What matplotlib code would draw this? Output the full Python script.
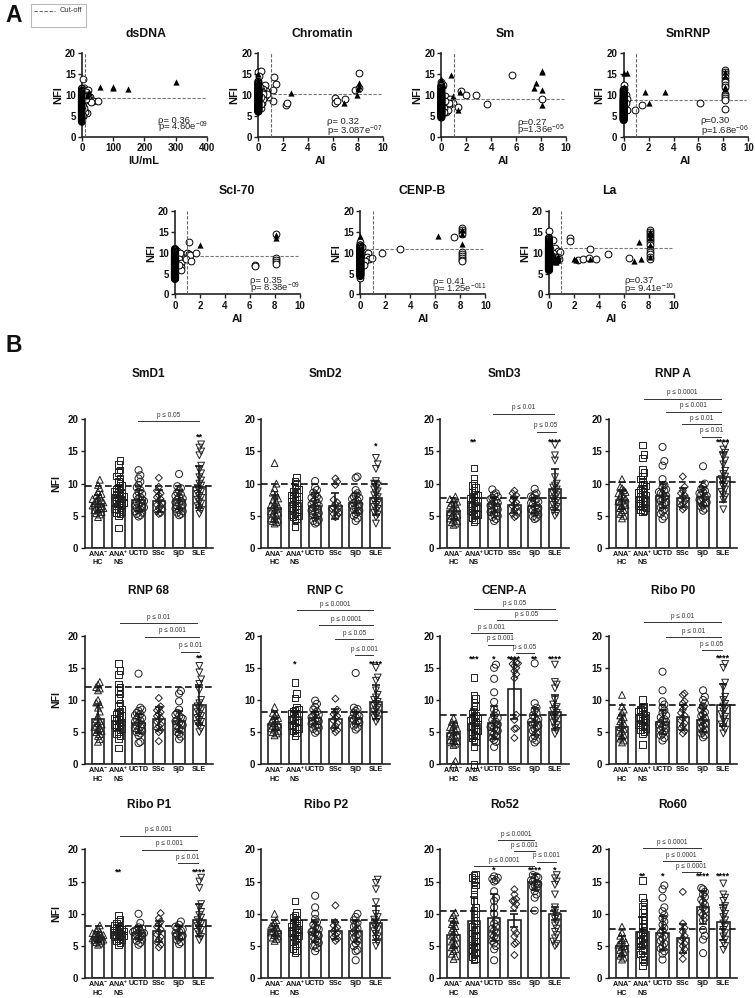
import numpy as np
import matplotlib
matplotlib.use('Agg')
import matplotlib.pyplot as plt
from matplotlib.patches import Rectangle
from matplotlib.lines import Line2D

plt.rcParams['font.family'] = ['Liberation Sans', 'DejaVu Sans']
plt.rcParams['mathtext.fontset'] = 'custom'
plt.rcParams['mathtext.rm'] = 'Liberation Sans'
plt.rcParams['mathtext.bf'] = 'Liberation Sans:bold'
plt.rcParams['mathtext.default'] = 'regular'

W, H = 755, 998
INK = '#222222'

# panel A, column of values sitting at x = 0
dsdna_col = [3.6,3.8,4.0,4.2,4.4,4.6,4.8,5.0,5.2,5.4,5.6,5.8,6.0,6.2,6.4,6.6,6.8,7.0,7.2,7.4,7.6,7.8,8.0,8.2,8.4,8.6,8.8,9.0,9.2,9.4,9.6,9.8,10.0,10.2,10.4,10.7,11.0,11.5]
dsdna_cx = [3,5,8,20,12,15,25,22,30,35,50,28,15,10,6,4,12,8,18,14]
dsdna_cy = [13.8,11.6,11.2,11.2,10.8,10,9.6,9,8.6,8.5,8.5,8.3,5.7,6,7,5,9.5,8.5,9.8,9]
dsdna_tx = [57,100,98,148,302,22,18,15,5,3,8]
dsdna_ty = [11.8,11.8,11.6,11.5,13,10.8,10.2,9.8,8,6,10.5]

chrom_col = [6.0,6.2,6.4,6.6,6.8,7.0,7.2,7.4,7.6,7.8,8.0,8.2,8.4,8.6,8.8,9.0,9.2,9.4,9.6,9.8,10.0,10.2,10.4,10.6,10.8,11.0,11.3,11.6,12.0,12.4,12.8,13.2]
chrom_cx = [0,0.2,0.05,1.3,1.4,1.2,1.2,0.8,0.5,0.6,0.4,0.3,0.5,0.7,2.2,2.3,6.2,6.2,6.3,7,7.8,8.1,8.1,0.2,0.3,0.15,0.4,0.25,0.15,0.3,0.2,0.35,0.1,0.25]
chrom_cy = [15.5,15.8,14.5,14.2,12.6,11.3,8.6,9.5,12.3,11,11.5,10,9.7,10.3,7.7,8.1,9.3,8,8.6,9.1,11.1,15.2,11.7,7,8,9,9,7.8,10.5,10.8,11.3,10.3,12,9.6]
chrom_tx = [0,0,0.1,2.6,6.9,7.9,8.1,8.1,8.05,0.1,0]
chrom_ty = [15,13,12,10.5,8.1,10,12.8,12.2,11.5,10.5,9]

sm_col = [4.6,4.8,5.0,5.2,5.4,5.6,5.8,6.0,6.2,6.4,6.6,6.8,7.0,7.2,7.4,7.6,7.8,8.0,8.2,8.4,8.6,8.8,9.0,9.2,9.4,9.6,9.8,10.0,10.3,10.6,11.0,11.4,11.8,12.2]
sm_cx = [0.1,0,0.3,0.7,0.9,0.6,0.4,0.5,0.6,1.3,1.6,2,2.8,3.7,5.7,8.1,0.2,0.3,0.2]
sm_cy = [12.5,13,9.8,9,8,7.5,6,6.3,8,7.2,11,10.1,10.1,7.9,14.7,9.1,7,8.5,6]
sm_tx = [0,0.1,0.8,0.9,1.5,1.3,7.4,7.6,8.1,8.05,8.1,8.1,0]
sm_ty = [13.8,12.5,14.8,9.7,10.7,6.5,11.6,12.8,15.7,15.4,11.1,7.6,11]

smrnp_col = [4.0,4.2,4.4,4.6,4.8,5.0,5.2,5.4,5.6,5.8,6.0,6.2,6.4,6.6,6.8,7.0,7.2,7.4,7.6,7.8,8.0,8.2,8.4,8.6,8.8,9.0,9.3,9.6,10.0,10.4,10.8,11.2]
smrnp_cx = [0,0.05,0.2,0.3,0.15,0.3,0.9,1.5,6.1,8.1,8.1,8.1,8.1,8.1,8.1,8.1,8.1,8.1,8.1,8.1,8.1,8.1]
smrnp_cy = [12.5,11.5,10,9,8,6.5,6.5,7.5,8.1,16,15.5,15,14.3,13.5,13,12.5,12,10.2,9.7,9.2,8.8,6.6]
smrnp_tx = [0,0.3,0.05,1.7,3.3,2,8.1,8.1,8.1,8.1,0]
smrnp_ty = [15.2,15.2,12,10.7,10.8,8.1,15.5,14.5,12,11.5,9]

scl_col = [3.7,3.9,4.1,4.3,4.5,4.7,4.9,5.1,5.3,5.5,5.7,5.9,6.1,6.3,6.5,6.7,6.9,7.1,7.3,7.5,7.7,7.9,8.1,8.3,8.5,8.7,8.9,9.1,9.4,9.7,10.0,10.3,10.6,10.9]
scl_cx = [0,0.2,0.4,0.3,0.5,0.5,0.45,0.3,1.1,1,1.1,1.2,0.9,1.3,1.65,6.4,6.4,8.1,8.1,8.1,8.1,8.1]
scl_cy = [11,10.5,10,8.5,7.5,6.5,5.8,7,12.5,10,9.8,9.5,8.5,8.1,9.9,7.1,6.7,14.5,8.7,8.2,7.7,7.2]
scl_tx = [2,8.1,8.1,0.1,0]
scl_ty = [11.8,14.3,13.5,9,7]

cenpb_col = [4.4,4.6,4.8,5.0,5.2,5.4,5.6,5.8,6.0,6.2,6.4,6.6,6.8,7.0,7.2,7.4,7.6,7.8,8.0,8.2,8.4,8.6,8.8,9.0,9.2,9.4,9.6,9.8,10.0,10.3,10.6,11.0,11.4,11.8]
cenpb_cx = [0,0,0.1,0.6,0.5,0.7,0.9,0.4,0.3,1.7,3.2,7.5,8.1,8.1,8.1,8.1,8.1,8.1,8.1,8.1,8.1,8.1]
cenpb_cy = [4,12.5,11.5,10,9,8.5,8.8,8,7,9.9,10.8,13.7,15.9,15.5,15,14.5,10.2,9.7,9.2,8.7,8.3,8]
cenpb_tx = [0,6.2,8.1,8.1,0.05,8.1]
cenpb_ty = [14,14.1,14.5,12.2,11,15.5]

la_col = [5.8,6.0,6.2,6.4,6.6,6.8,7.0,7.2,7.4,7.6,7.8,8.0,8.2,8.4,8.6,8.8,9.0,9.2,9.4,9.6,9.8,10.0,10.2,10.4,10.6,10.8,11.0,11.3,11.6,12.0,12.4,12.8,13.2,13.6]
la_cx = [0,0.3,0.5,0.7,0.85,0.3,0.5,0.7,0.8,0.6,0.2,0.4,0.15,0.1,1.7,1.7,2.3,2.7,3.3,3.2,3.8,4.7,6.4,8.1,8.1,8.1,8.1,8.1,8.1,8.1,8.1,8.1,8.1,8.1,8.1,8.1]
la_cy = [15.2,13.2,11.2,10.5,10.3,10,9,9,8.5,8,8.5,8,9.5,11,13.5,12.8,8.3,8.4,10.9,8.8,8.6,9.7,8.7,15.5,15,14.5,14,13.5,13,12.5,11.8,11,10.3,9.6,9,8.4]
la_tx = [2,2.15,3.3,6.8,7.2,7.4,8.1,8.1,0.1,0.4,0.6,0.8,0.3,0,0.2,0.5,0.7,0.15,0.35,0.55,0.75,8.1,8.1,8.1]
la_ty = [8.4,8.2,8.4,8.1,12.7,8.6,15,9,8,8.5,8.3,8.2,8,12,9,9,9.3,9.6,9.4,7.9,8.7,13.5,12,14.5]

# panel B, one list per group: ANA- HC, ANA+ NS, UCTD, SSc, SjD, SLE
groups = ['ANA$^{\\mathbf{-}}$', 'ANA$^{\\mathbf{+}}$', 'UCTD', 'SSc', 'SjD', 'SLE']
groups2 = ['HC', 'NS', '', '', '', '']
markers = ['^', 's', 'o', 'D', 'o', 'v']
marker_sizes = [24, 22, 26, 13, 26, 24]

smd1_means = [6.9,8.0,7.4,7.3,7.5,9.5]
smd1_sd = [1.3,1.6,1.6,1.7,1.5,3.3]
smd1_pts = [
 [4.8,5.2,5.4,5.6,5.8,5.9,6.1,6.2,6.4,6.5,6.6,6.8,6.9,7.0,7.1,7.3,7.4,7.6,7.8,8.0,8.2,8.4,8.7,9.3,9.8,10.6],
 [3.1,5.0,5.3,5.5,5.7,5.9,6.1,6.3,6.5,6.6,6.8,7.0,7.1,7.3,7.4,7.6,7.7,7.9,8.0,8.2,8.3,8.5,8.6,8.8,9.0,9.2,9.4,9.7,10,10.4,10.8,11.2,11.7,12.1,13.0,13.6],
 [4.9,5.1,5.3,5.5,5.7,5.9,6.0,6.2,6.3,6.5,6.6,6.8,7,7.1,7.3,7.5,7.7,7.9,8.1,8.4,8.7,9,9.4,9.8,10.3,10.8,11.3,12.1],
 [5.3,5.4,5.7,6.0,6.2,6.5,6.7,7,7.3,7.6,7.9,8.2,8.5,8.9,9.5,10.9],
 [5.1,5.3,5.5,5.7,5.9,6.1,6.3,6.5,6.7,6.9,7.1,7.3,7.5,7.7,7.9,8.1,8.3,8.6,8.9,9.3,9.6,11.5],
 [5.3,5.9,6.2,6.5,6.9,7.2,7.5,7.8,8.1,8.4,8.7,9,9.3,9.7,10,10.5,11,11.6,12.2,12.8,14.4,15,15.6,16.1]]

smd2_means = [6.2,7.0,6.6,6.5,7.0,7.8]
smd2_sd = [2.1,1.5,1.9,2.0,1.6,2.6]
smd2_pts = [
 [3.8,4.0,4.2,4.4,4.6,4.9,5.1,5.3,5.5,5.7,5.9,6.1,6.3,6.5,6.7,6.9,7.1,7.4,7.7,8.0,8.3,8.6,9.3,10,13.2],
 [3.3,4.4,4.6,4.8,5.0,5.2,5.4,5.6,5.8,6.0,6.2,6.4,6.6,6.8,7.0,7.2,7.4,7.6,7.8,8.0,8.2,8.4,8.6,8.8,9.1,9.5,9.9,10.3,11],
 [3.8,4.0,4.2,4.4,4.7,5.0,5.2,5.4,5.6,5.8,6.0,6.2,6.4,6.6,6.8,7.0,7.2,7.4,7.6,7.8,8.0,8.3,8.6,9.0,9.4,10.4],
 [4.8,5.1,5.3,5.5,5.7,5.9,6.1,6.3,6.5,6.8,7.1,7.5,9.8,10.3,10.8],
 [4.2,4.6,5.0,5.3,5.6,5.8,6.0,6.2,6.4,6.6,6.8,7.0,7.2,7.4,7.6,7.8,8.0,8.2,8.5,9.0,10.9,11.1],
 [3.8,4.8,5.2,5.5,5.8,6.1,6.4,6.7,7,7.3,7.6,7.9,8.2,8.5,8.8,9.1,9.4,9.7,10,10.4,12.3,13,14]]

smd3_means = [5.8,7.0,6.8,6.7,6.6,9.1]
smd3_sd = [1.3,1.4,1.2,1.3,1.2,3.2]
smd3_pts = [
 [3.6,3.8,4.0,4.2,4.4,4.6,4.8,5.0,5.2,5.4,5.6,5.8,6.0,6.2,6.4,6.6,6.8,7.0,7.2,7.4,7.6,8.0],
 [4.1,4.4,4.7,5.0,5.2,5.4,5.6,5.8,6.0,6.2,6.4,6.6,6.8,7.0,7.2,7.4,7.6,7.8,8.0,8.2,8.4,8.7,9,9.4,9.7,10,10.8,12.4],
 [4.2,4.5,4.8,5.0,5.2,5.4,5.6,5.8,6.0,6.2,6.4,6.6,6.8,7,7.2,7.4,7.6,7.8,8,8.3,8.5,9.1],
 [4.8,5.0,5.3,5.6,5.9,6.2,6.5,6.8,7.1,7.4,7.8,8.2,8.5,8.9],
 [4.5,4.7,4.9,5.2,5.4,5.6,5.8,6,6.2,6.4,6.6,6.8,7,7.2,7.4,7.6,7.8,8.0,8.3,8.5,9.2],
 [5,5.4,5.8,6.1,6.4,6.7,7,7.3,7.6,7.9,8.2,8.5,8.8,9.1,9.4,9.7,10,11,13.6,14.4,16]]

rnpa_means = [7.5,8.0,8.1,7.8,8.0,11.0]
rnpa_sd = [1.5,1.7,1.9,1.5,1.5,3.9]
rnpa_pts = [
 [4.6,5.0,5.3,5.6,5.9,6.2,6.5,6.7,6.9,7.1,7.3,7.5,7.7,7.9,8.1,8.3,8.5,8.7,9,9.3,9.5,10.7],
 [5.6,5.8,6,6.2,6.4,6.6,6.8,7,7.2,7.4,7.6,7.8,8,8.2,8.4,8.6,8.8,9,9.3,9.6,9.9,10.3,10.7,11.2,11.7,12.2,14,14.5,16],
 [4.5,4.9,5.3,5.7,6,6.3,6.6,6.9,7.1,7.3,7.5,7.7,7.9,8.1,8.3,8.5,8.7,8.9,9.1,9.4,9.8,10.7,12.8,13.5,15.7],
 [6,6.3,6.6,6.9,7.2,7.5,7.7,7.9,8.2,8.5,8.9,9.5,11.1],
 [5.8,6.1,6.4,6.7,6.9,7.1,7.3,7.5,7.7,7.9,8.1,8.3,8.5,8.7,8.9,9.2,9.5,10,12.7],
 [6,7.5,7.9,8.3,8.7,9.1,9.5,9.9,10.3,10.7,11.1,11.5,12,13,13.6,14.2,14.8,15.3,16]]

rnp68_means = [7.0,6.8,6.4,7.1,6.7,9.3]
rnp68_sd = [2.2,1.6,1.5,1.8,1.6,3.1]
rnp68_pts = [
 [3.5,3.9,4.4,4.7,5,5.2,5.4,5.6,5.8,6,6.2,6.4,6.7,7,7.4,8.2,8.8,9.3,9.6,10,11.5,11.8,12,12.4,12.8],
 [2.5,4,4.4,4.8,5.1,5.4,5.6,5.8,6,6.2,6.4,6.6,6.8,7,7.2,7.4,7.6,7.8,8,8.3,8.6,9,9.5,10.2,10.9,11.5,12,12.5,14,14.6,15.7],
 [3.3,3.5,4.5,4.8,5,5.2,5.4,5.6,5.8,6,6.2,6.4,6.6,6.8,7,7.2,7.4,7.6,7.8,8,8.3,8.5,8.8,14.1],
 [3.6,5,5.3,5.6,5.9,6.2,6.6,6.9,7.2,7.5,7.8,8.1,8.4,8.7,9,10.3],
 [3.9,4.3,4.7,5,5.3,5.6,5.9,6.1,6.3,6.5,6.7,6.9,7.1,7.3,7.5,7.7,8,8.5,9.8,11,11.4],
 [5,5.5,6,6.3,6.6,6.9,7.2,7.5,7.8,8.1,8.4,8.7,9,9.5,10,11.5,12.5,13.2,14.3,15.3]]

rnpc_means = [6.3,7.3,7.2,7.1,7.2,9.7]
rnpc_sd = [0.9,1.0,1.0,1.5,1.0,2.6]
rnpc_pts = [
 [4.5,4.8,5,5.2,5.4,5.6,5.8,6,6.2,6.4,6.6,6.8,7,7.2,7.5,7.8,8,8.9],
 [4.5,4.9,5.2,5.4,5.6,5.8,6,6.2,6.4,6.6,6.8,7,7.2,7.4,7.6,7.8,8,8.2,8.4,8.6,8.9,10.3,11,12.7],
 [4.9,5.2,5.5,5.7,5.9,6.1,6.3,6.5,6.7,6.9,7.1,7.3,7.5,7.7,7.9,8.2,8.5,8.9,9.4,9.9],
 [5,5.3,5.6,6,6.4,6.8,7.2,7.5,7.8,8.1,8.5,10.2],
 [5.4,5.7,6,6.3,6.5,6.7,6.9,7.1,7.3,7.5,7.7,8,8.3,8.6,8.8,14.2],
 [6.6,7,7.3,7.6,7.9,8.2,8.5,8.8,9.1,9.4,9.7,10,10.4,10.8,11.5,13,13.5,15]]

cenpa_means = [4.8,6.3,6.5,11.7,6.6,8.1]
cenpa_sd = [1.6,2.3,2.6,4.6,2.1,2.6]
cenpa_pts = [
 [0,0.5,3,3.2,3.4,3.6,3.8,4,4.2,4.4,4.6,4.8,5,5.2,5.4,5.6,5.8,6,6.3,6.6,7.2],
 [0,2.7,3.5,3.8,4.1,4.4,4.7,5,5.2,5.4,5.6,5.8,6,6.2,6.4,6.6,6.8,7,7.2,7.4,7.7,8,8.5,9,9.6,10.2,10.7,13.5],
 [2.7,3.5,3.8,4.1,4.4,4.7,5,5.2,5.4,5.6,5.8,6,6.2,6.4,6.6,6.9,7.2,7.6,8,8.5,9.7,11.2,13.3,15,15.5],
 [4.1,5.5,5.6,6.9,7.7,13.4,14,14.5,15,15.3,15.6,15.7,15.8],
 [3.4,3.7,4,4.4,4.8,5.2,5.5,5.8,6,6.2,6.4,6.6,6.8,7,7.3,7.6,8,8.4,8.8,9.5,15.7],
 [4.7,5.2,5.7,6.1,6.5,6.8,7.1,7.4,7.7,8,8.3,8.6,8.9,9.3,10,11.8,12.4,12.8,15.5]]

ribop0_means = [5.8,7.6,6.6,7.3,6.9,9.2]
ribop0_sd = [1.8,1.1,1.9,2.0,1.9,3.3]
ribop0_pts = [
 [3.4,3.7,4,4.3,4.6,4.9,5.2,5.5,5.8,6.1,6.4,6.7,7,7.3,7.6,8,8.5,9,10.8],
 [3.1,4.8,5.1,5.4,5.6,5.8,6,6.2,6.4,6.6,6.8,7,7.2,7.4,7.6,7.8,8,8.2,8.5,8.8,9,10.1],
 [3.7,4.1,4.5,4.8,5.1,5.4,5.6,5.8,6,6.2,6.4,6.6,6.8,7,7.3,7.6,8,8.4,8.8,9.3,9.8,11.5,14.4],
 [4.8,5.2,5.6,6,6.4,6.8,7.2,7.6,8,8.5,9,9.5,9.8,10.8,11],
 [4.2,4.5,4.8,5.1,5.4,5.7,6,6.3,6.6,6.9,7.2,7.5,7.8,8.1,8.5,9,9.5,10,10.5,11.5],
 [4.8,5.4,5.8,6.2,6.6,7,7.4,7.8,8.2,8.6,9,9.4,10,10.5,12,12.7,15,15.6]]

ribop1_means = [6.4,7.2,7.0,7.3,7.1,9.0]
ribop1_sd = [0.8,1.1,0.9,1.6,1.0,2.5]
ribop1_pts = [
 [5.2,5.4,5.6,5.8,5.9,6,6.1,6.2,6.3,6.4,6.5,6.6,6.7,6.8,7,7.2,7.4,7.7,8.2],
 [5.2,5.5,5.8,6,6.2,6.4,6.5,6.6,6.7,6.8,6.9,7,7.1,7.2,7.3,7.4,7.5,7.6,7.8,8,8.2,8.5,8.8,9.2,9.8],
 [5.2,5.5,5.8,6,6.2,6.4,6.6,6.8,6.9,7,7.1,7.2,7.3,7.4,7.5,7.7,7.9,8.6,10],
 [4.8,5.2,5.6,6,6.4,6.8,7.2,7.6,8,8.4,8.8,9.3,10.1],
 [5.3,5.6,5.9,6.2,6.4,6.6,6.8,7,7.2,7.4,7.6,7.8,8,8.3,8.8],
 [5.9,6.4,6.8,7.2,7.5,7.8,8.1,8.4,8.7,9,9.4,9.8,10.3,11,11.5,14,15,15.6]]

ribop2_means = [7.3,7.8,7.2,7.4,7.3,8.6]
ribop2_sd = [0.8,1.3,1.6,1.3,1.6,2.6]
ribop2_pts = [
 [5.8,6.1,6.3,6.5,6.7,6.9,7.1,7.3,7.5,7.7,7.9,8.1,8.3,8.6,9,10],
 [4,4.3,4.6,5,5.3,5.6,5.9,6.2,6.4,6.6,6.8,7,7.2,7.4,7.6,7.8,8,8.2,8.4,8.6,8.8,9,9.4,9.8,10.2,12],
 [4.2,4.7,5,5.1,5.5,5.8,6.1,6.4,6.6,6.8,7,7.2,7.4,7.6,7.8,8,8.3,8.7,9.2,10,11,12.8],
 [5.8,6.1,6.4,6.7,7,7.3,7.6,7.9,8.2,8.7,11.3],
 [2.8,4.2,4.4,5,5.4,5.8,6.2,6.5,6.8,7.1,7.4,7.7,8,8.3,8.6,9,9.5,10],
 [5,5.6,6.1,6.5,6.9,7.3,7.6,7.9,8.2,8.5,8.8,9.1,9.5,10,11.8,13.8,14.8,15.3]]

ro52_means = [6.7,8.9,9.4,9.0,14.9,10.0]
ro52_sd = [2.0,3.7,3.6,1.0,1.2,1.0]
ro52_pts = [
 [3,3.4,3.8,4.2,4.5,4.8,5.1,5.4,5.7,6,6.3,6.6,6.9,7.2,7.5,7.8,8.1,8.4,8.7,9,9.4,9.8,10.2],
 [2.8,3.1,3.4,3.7,4,4.3,4.6,4.9,5.2,5.5,5.8,6.1,6.4,6.7,7,7.3,7.6,8,8.5,9,9.5,10,10.5,11,12,13,13.8,14.5,15,15.3,15.6,15.9,16.1],
 [2.8,4.5,5,5.4,5.8,6.2,6.5,6.8,7.1,7.4,7.7,8,8.5,9,10,11,12,12.5,13.5,15,15.2,15.4,15.6,15.8],
 [3.6,5.3,5.5,6.5,7,7.5,11,11.5,12,12,12.3,13,13.8],
 [10.5,12.5,13,13.5,14,14.2,14.4,14.6,14.8,15,15.2,15.4,15.6,15.8,16],
 [5,5.3,5.7,6.2,6.7,7.2,7.7,8.2,8.7,9.2,9.7,10.2,11,13,14.5,15,15.5,16]]

ro60_means = [5.0,7.2,7.0,6.2,11.0,8.7]
ro60_sd = [1.5,2.3,2.6,2.2,2.6,2.7]
ro60_pts = [
 [2.9,3.2,3.5,3.8,4.1,4.4,4.6,4.8,5,5.2,5.4,5.6,5.9,6.2,6.6,7.1,8],
 [1.9,2.5,3,3.4,3.8,4.2,4.6,5,5.3,5.6,5.9,6.2,6.5,6.8,7.1,7.5,8,8.5,9,9.5,10.2,10.7,11.2,11.8,12.5,15.2],
 [2.9,3.8,4.2,4.6,5,5.4,5.8,6.2,6.6,7,7.4,7.8,8.3,8.8,9.3,9.8,10.4,11,12.5,13.8,14.4],
 [3,4,4.5,5,5.4,5.8,6.2,6.6,7.2,7.8,8.5,13.4],
 [3.9,6,6.6,7.5,9,9.4,9.8,10.2,10.6,11,11.4,11.8,12.2,12.6,13,13.4,13.8,14],
 [4.4,5,5.5,6,6.5,7,7.5,8,8.5,9,9.5,10,10.5,11.2,12,12.5,13,14.7]]

SP = 20.27
SLOTS = [0, 1, -1, 2, -2, 3, -3]


def px_axes(left, right, top, bottom):
    return fig.add_axes([left / W, 1 - bottom / H, (right - left) / W, (bottom - top) / H])


def px_text(x, y, s, **kw):
    fig.text(x / W, 1 - y / H, s, ha='center', va='center', **kw)


def style(ax):
    ax.spines['top'].set_visible(False)
    ax.spines['right'].set_visible(False)
    ax.spines['left'].set_linewidth(1.2)
    ax.spines['bottom'].set_linewidth(1.2)
    ax.spines['left'].set_color(INK)
    ax.spines['bottom'].set_color(INK)
    ax.set_ylim(0, 20)
    ax.set_yticks([0, 5, 10, 15, 20])
    ax.patch.set_alpha(0)
    ax.tick_params(axis='y', length=3, width=1, pad=1.5, color=INK)
    for t in ax.get_yticklabels():
        t.set_fontsize(7)
        t.set_fontweight('bold')
        t.set_color('#111111')


def scatter_panel(box, title, title_xy, xlabel, xlabel_xy, xmax, col, cx, cy, tx, ty, cut_x, cut_y, rho, pval, txt):
    ax = px_axes(*box)
    ax.set_xlim(0, xmax)
    style(ax)
    step = xmax / 5 if xmax == 10 else 100
    ticks = np.arange(0, xmax + step / 2, step)
    ax.set_xticks(ticks)
    ax.set_xticklabels(['%d' % v for v in ticks], fontsize=7, fontweight='bold', color='#111111')
    ax.tick_params(axis='x', length=3, width=1, pad=1.5, color=INK)
    ax.scatter(cx, cy, s=24, facecolor='white', edgecolor='black', linewidth=0.7, clip_on=False, zorder=3)
    ax.scatter(np.zeros(len(col)), col, s=24, facecolor='none', edgecolor='black', linewidth=1.0, clip_on=False, zorder=3)
    ax.scatter(tx, ty, s=20, marker='^', color='black', linewidth=0, clip_on=False, zorder=4)
    ax.plot([cut_x, cut_x], [0, 20], color='#666666', lw=0.8, ls=(0, (3, 1.5)), zorder=5)
    ax.plot([0, xmax * 0.985], [cut_y, cut_y], color='#777777', lw=0.8, ls=(0, (3, 1.5)), zorder=2)
    ax.text(txt[0], txt[1], rho, fontsize=6.8, va='center', color='#222222', zorder=6)
    ax.text(txt[0], txt[2], pval, fontsize=6.8, va='center', color='#222222', zorder=6)
    px_text(title_xy[0], title_xy[1], title, fontsize=8.8, fontweight='bold', color='#111111')
    px_text(xlabel_xy[0], xlabel_xy[1], xlabel, fontsize=8, fontweight='bold', color='#111111')
    px_text(box[0] - 24, (box[2] + box[3]) / 2, 'NFI', fontsize=8, fontweight='bold', rotation=90, color='#111111')


def swarm(vals):
    # simple beeswarm: first slot with no close neighbour, else the centre-most
    ys = sorted(vals)
    used = {s: [] for s in SLOTS}
    off = []
    for v in ys:
        pick = None
        for s in SLOTS:
            if all(abs(v - p) >= 0.8 for p in used[s]):
                pick = s
                break
        if pick is None:
            pick = min(SLOTS, key=lambda s: (used[s][-1], abs(s)))
        used[pick].append(v)
        off.append(pick * 1.8 / SP)
    return ys, off


def bar_panel(col, row, title, means, sd, pts, cut, brackets, stars, star_y, nfi=False):
    left, right = col
    top, bottom, title_y = row
    c0 = left + 13.3
    ax = px_axes(left, right, top, bottom)
    ax.set_xlim(-13.3 / SP, (right - c0) / SP)
    style(ax)
    xs = np.arange(6)
    ax.bar(xs, means, width=0.62, facecolor='white', edgecolor=INK, linewidth=1.2, zorder=1)
    for i in range(6):
        y, off = swarm(pts[i])
        ax.scatter(xs[i] + np.array(off), y, marker=markers[i], s=marker_sizes[i], facecolor='none',
                   edgecolor='#222222', linewidth=0.7, clip_on=False, zorder=2)
        if stars[i]:
            ax.text(xs[i], star_y, stars[i], fontsize=6.5, fontweight='bold', ha='center', va='center', clip_on=False, zorder=6)
        ax.text(xs[i], -0.85, groups[i], fontsize=5.2, fontweight='bold', color='#111111', ha='center', va='center', clip_on=False)
        if groups2[i]:
            ax.text(xs[i], -2.3, groups2[i], fontsize=5.2, fontweight='bold', color='#111111', ha='center', va='center', clip_on=False)
    ax.errorbar(xs, means, yerr=sd, fmt='none', ecolor='#1a1a1a', elinewidth=1.2, capsize=2.8, capthick=1.2, zorder=3)
    ax.plot([-13.3 / SP, (right - c0) / SP], [cut, cut], color='#111111', lw=1.2, ls=(0, (4, 2)), zorder=4)
    ax.set_xticks([])
    for x0, x1, y, lab in brackets:
        ax.plot([x0, x1], [y, y], color='#333333', lw=0.7, clip_on=False, zorder=5)
        ax.text((x0 + x1) / 2, y + 0.9, lab, fontsize=4.7, color='#333333', ha='center', va='center', clip_on=False)
    px_text((left + right) / 2, title_y, title, fontsize=8.6, fontweight='bold', color='#111111')
    if nfi:
        px_text(left - 28, (top + bottom) / 2, 'NFI', fontsize=7.5, fontweight='bold', rotation=90, color='#111111')


fig = plt.figure(figsize=(W / 100, H / 100), dpi=100)

# panel A
row1 = (53.3, 136.7)
row2 = (211.3, 294.3)
scatter_panel((82, 206.7) + row1, 'dsDNA', (146, 34), 'IU/mL', (144, 161), 400, dsdna_col, dsdna_cx, dsdna_cy, dsdna_tx, dsdna_ty,
              10, 9.3, '\u03c1= 0.36', 'p= 4.60e$^{-09}$', (243, 4.0, 2.3))
scatter_panel((258.3, 382.7) + row1, 'Chromatin', (322.7, 34), 'AI', (320.7, 161), 10, chrom_col, chrom_cx, chrom_cy, chrom_tx, chrom_ty,
              1, 10.2, '\u03c1= 0.32', 'p= 3.087e$^{-07}$', (5.56, 3.6, 1.4))
scatter_panel((441.3, 566) + row1, 'Sm', (505.7, 34), 'AI', (503.5, 161), 10, sm_col, sm_cx, sm_cy, sm_tx, sm_ty,
              1, 9, '\u03c1=0.27', 'p=1.36e$^{-05}$', (6.07, 3.4, 1.6))
scatter_panel((623.7, 748.3) + row1, 'SmRNP', (688, 34), 'AI', (685.7, 161.5), 10, smrnp_col, smrnp_cx, smrnp_cy, smrnp_tx, smrnp_ty,
              1, 8.7, '\u03c1=0.30', 'p=1.68e$^{-06}$', (6.17, 4.0, 1.4))
scatter_panel((175, 299.7) + row2, 'Scl-70', (237, 191), 'AI', (237, 319.3), 10, scl_col, scl_cx, scl_cy, scl_tx, scl_ty,
              1, 9.2, '\u03c1= 0.35', 'p= 8.38e$^{-09}$', (6.0, 3.4, 1.4))
scatter_panel((360.3, 485.3) + row2, 'CENP-B', (422, 191), 'AI', (423, 319.3), 10, cenpb_col, cenpb_cx, cenpb_cy, cenpb_tx, cenpb_ty,
              1, 10.9, '\u03c1= 0.41', 'p= 1.25e$^{-011}$', (5.84, 3.0, 1.3))
scatter_panel((549, 673.7) + row2, 'La', (609, 191), 'AI', (611, 319.3), 10, la_col, la_cx, la_cy, la_tx, la_ty,
              1, 11.2, '\u03c1=0.37', 'p= 9.41e$^{-10}$', (6.04, 3.3, 1.2))

# panel B
c1 = (84.7, 213)
c2 = (261.3, 390)
c3 = (440.3, 569)
c4 = (608.7, 736.7)
r1 = (419.3, 548, 374.3)
r2 = (635.7, 764.3, 591)
r3 = (849.3, 978.3, 804.7)
bar_panel(c1, r1, 'SmD1', smd1_means, smd1_sd, smd1_pts, 9.6, [(1.97, 4.97, 19.75, 'p \u2264 0.05')], ['', '', '', '', '', '**'], 17.3, nfi=True)
bar_panel(c2, r1, 'SmD2', smd2_means, smd2_sd, smd2_pts, 10, [], ['', '', '', '', '', '*'], 15.8)
bar_panel(c3, r1, 'SmD3', smd3_means, smd3_sd, smd3_pts, 7.7,
          [(1.95, 4.95, 20.9, 'p \u2264 0.01'), (4.09, 5.03, 18.1, 'p \u2264 0.05')],
          ['', '**', '', '', '', '****'], 16.5)
bar_panel(c4, r1, 'RNP A', rnpa_means, rnpa_sd, rnpa_pts, 10.3,
          [(1.07, 4.87, 23.2, 'p \u2264 0.0001'), (2.17, 4.87, 21.2, 'p \u2264 0.001'),
           (2.98, 4.87, 19.25, 'p \u2264 0.01'), (3.96, 4.87, 17.3, 'p \u2264 0.01')],
          ['', '', '', '', '', '****'], 16.5)
bar_panel(c1, r2, 'RNP 68', rnp68_means, rnp68_sd, rnp68_pts, 12,
          [(1.09, 4.87, 22, 'p \u2264 0.01'), (2.3, 5, 19.85, 'p \u2264 0.001'), (4.1, 5, 17.5, 'p \u2264 0.01')],
          ['', '', '', '', '', '**'], 16.6, nfi=True)
bar_panel(c2, r2, 'RNP C', rnpc_means, rnpc_sd, rnpc_pts, 8.1,
          [(1.09, 4.87, 24, 'p \u2264 0.0001'), (2.19, 4.87, 21.6, 'p \u2264 0.0001'),
           (3, 4.87, 19.5, 'p \u2264 0.05'), (3.96, 4.87, 17, 'p \u2264 0.001')],
          ['', '*', '', '', '', '****'], 15.6)
bar_panel(c3, r2, 'CENP-A', cenpa_means, cenpa_sd, cenpa_pts, 7.7,
          [(1, 5, 24.1, 'p \u2264 0.05'), (2.12, 5.1, 22.4, 'p \u2264 0.05'), (0.86, 2.88, 20.4, 'p \u2264 0.001'),
           (1.71, 2.94, 18.6, 'p \u2264 0.001'), (3.09, 3.95, 17.3, 'p \u2264 0.05')],
          ['', '***', '*', '****', '**', '****'], 16.4)
bar_panel(c4, r2, 'Ribo P0', ribop0_means, ribop0_sd, ribop0_pts, 9.2,
          [(1.07, 4.87, 22.1, 'p \u2264 0.01'), (2.17, 4.87, 19.8, 'p \u2264 0.01'), (3.96, 4.92, 17.7, 'p \u2264 0.05')],
          ['', '', '', '', '', '****'], 16.5)
bar_panel(c1, r3, 'Ribo P1', ribop1_means, ribop1_sd, ribop1_pts, 8.1,
          [(1.09, 4.87, 22.1, 'p \u2264 0.001'), (2.19, 4.87, 19.95, 'p \u2264 0.001'), (3.95, 4.92, 17.8, 'p \u2264 0.01')],
          ['', '**', '', '', '', '****'], 16.5, nfi=True)
bar_panel(c2, r3, 'Ribo P2', ribop2_means, ribop2_sd, ribop2_pts, 9, [], ['', '', '', '', '', ''], 16.5)
bar_panel(c3, r3, 'Ro52', ro52_means, ro52_sd, ro52_pts, 10.4,
          [(2.2, 3.98, 21.45, 'p \u2264 0.0001'), (3, 4.01, 19.7, 'p \u2264 0.001'),
           (1, 3.98, 17.4, 'p \u2264 0.0001'), (4.1, 5.05, 18.1, 'p \u2264 0.001')],
          ['', '', '*', '', '****', '*'], 16.8)
bar_panel(c4, r3, 'Ro60', ro60_means, ro60_sd, ro60_pts, 7.7,
          [(1.05, 3.88, 20.2, 'p \u2264 0.0001'), (2, 3.88, 18.2, 'p \u2264 0.0001'), (2.94, 3.88, 16.5, 'p \u2264 0.0001')],
          ['', '**', '*', '', '****', '****'], 15.8)

# panel letters and cut-off key
px_text(13.5, 15, 'A', fontsize=16.5, fontweight='bold', color='#111111')
px_text(14, 345, 'B', fontsize=16.5, fontweight='bold', color='#111111')
fig.add_artist(Rectangle((31 / W, 1 - 27 / H), 55 / W, 23 / H, transform=fig.transFigure, fill=False, edgecolor='#bbbbbb', lw=0.8))
fig.add_artist(Line2D([34 / W, 55 / W], [1 - 11 / H, 1 - 11 / H], transform=fig.transFigure, color='#666666', lw=0.8, ls=(0, (3, 1.5))))
px_text(71, 11, 'Cut-off', fontsize=5.4, color='#333333')

fig.savefig('out.png', dpi=100)
